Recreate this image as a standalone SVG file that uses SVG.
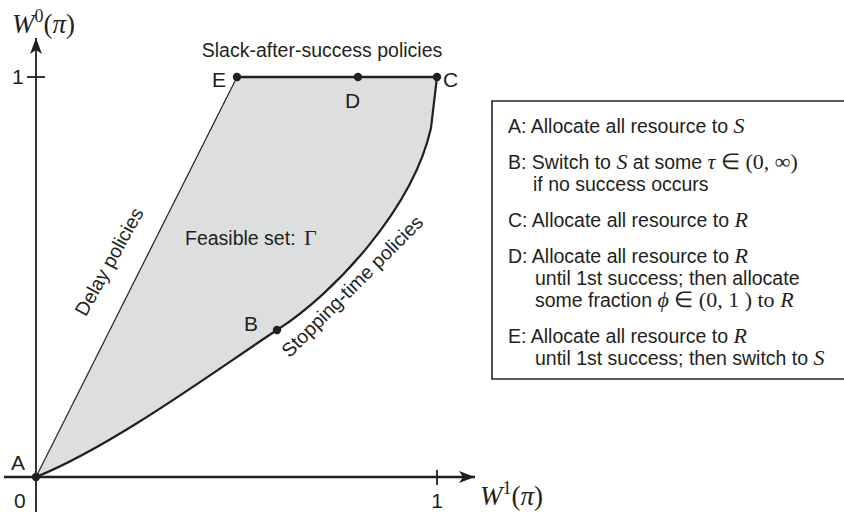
<svg xmlns="http://www.w3.org/2000/svg" width="844" height="512" viewBox="0 0 844 512">
<style>
.sans{font-family:"Liberation Sans",Arial,sans-serif;fill:#231f20;font-size:19.5px}
.lbl{font-family:"Liberation Sans",Arial,sans-serif;fill:#231f20;font-size:21px}
.m{font-family:"Liberation Serif","Times New Roman",serif;font-style:italic;font-size:22px}
.mr{font-family:"Liberation Serif","Times New Roman",serif;font-size:22px}
.ax{stroke:#231f20;fill:none}
.dot{fill:#231f20}
</style>
<defs>
<marker id="arr" markerUnits="userSpaceOnUse" markerWidth="20" markerHeight="16" refX="0" refY="0" viewBox="-18 -8 20 16" orient="auto" overflow="visible">
<path d="M0,0 L-16,-6 L-12,0 L-16,6 Z" fill="#231f20"/>
</marker>
</defs>
<rect width="844" height="512" fill="#fff"/>
<g id="region">
<path d="M36,477 L237,77 L437,77 L431,128 C413,208 335,293 277,330 C219,368 115,445 36,477 Z" fill="#dddee0" stroke="none"/>
</g>
<g id="connectors">
<line class="ax" x1="36" y1="512" x2="36" y2="38" stroke-width="1.8" marker-end="url(#arr)"/>
<line class="ax" x1="4" y1="477" x2="475" y2="477" stroke-width="2.6" marker-end="url(#arr)"/>
<line class="ax" x1="27" y1="77" x2="45" y2="77" stroke-width="1.8"/>
<line class="ax" x1="437" y1="470" x2="437" y2="485" stroke-width="1.8"/>
<line class="ax" x1="36" y1="477" x2="237" y2="77" stroke-width="1.2"/>
<line class="ax" x1="237" y1="77" x2="437" y2="77" stroke-width="2.6"/>
<path class="ax" d="M36,477 C115,445 219,368 277,330 C335,293 413,208 431,128 L437,77" stroke-width="2.2"/>
</g>
<g id="axis-labels">
<text x="12" y="33" font-family="Liberation Serif,serif" font-size="27" fill="#231f20"><tspan font-style="italic">W</tspan><tspan font-size="18" dy="-11">0</tspan><tspan dy="11">(</tspan><tspan font-style="italic">π</tspan>)</text>
<text x="480" y="505" font-family="Liberation Serif,serif" font-size="27" fill="#231f20"><tspan font-style="italic">W</tspan><tspan font-size="18" dy="-11">1</tspan><tspan dy="11">(</tspan><tspan font-style="italic">π</tspan>)</text>
<text class="lbl" x="12" y="84">1</text>
<text class="lbl" x="14" y="508">0</text>
<text class="lbl" x="437" y="508" text-anchor="middle">1</text>
</g>
<g id="A"><circle class="dot" cx="36" cy="477" r="4.2"/><text class="lbl" x="11" y="470">A</text></g>
<g id="B"><circle class="dot" cx="277" cy="330" r="4.2"/><text class="lbl" x="244" y="331">B</text></g>
<g id="C"><circle class="dot" cx="437" cy="77" r="4.2"/><text class="lbl" x="443" y="87">C</text></g>
<g id="D"><circle class="dot" cx="358" cy="77" r="4.2"/><text class="lbl" x="345" y="108">D</text></g>
<g id="E"><circle class="dot" cx="237" cy="77" r="4.2"/><text class="lbl" x="212" y="87">E</text></g>
<g id="region-labels">
<text class="sans" x="322" y="57" text-anchor="middle">Slack-after-success policies</text>
<text class="sans" x="185" y="245">Feasible set: <tspan class="mr" font-size="25" dx="3">Γ</tspan></text>
<text class="sans" text-anchor="middle" transform="translate(115,265) rotate(-61)">Delay policies</text>
<text class="sans" text-anchor="middle" transform="translate(357,291) rotate(-45)">Stopping-time policies</text>
</g>
<g id="legend">
<path d="M845,101 L492,101 L492,379 L845,379" fill="#fff" stroke="#231f20" stroke-width="1.6"/>
<text class="sans" x="508" y="133">A: Allocate all resource to <tspan class="m">S</tspan></text>
<text class="sans" x="508" y="169">B: Switch to <tspan class="m">S</tspan> at some <tspan class="m">τ</tspan><tspan class="mr"> ∈ (0, ∞)</tspan></text>
<text class="sans" x="533" y="191">if no success occurs</text>
<text class="sans" x="508" y="227">C: Allocate all resource to <tspan class="m">R</tspan></text>
<text class="sans" x="508" y="263">D: Allocate all resource to <tspan class="m">R</tspan></text>
<text class="sans" x="535" y="285">until 1st success; then allocate</text>
<text class="sans" x="535" y="307">some fraction <tspan class="m">ϕ</tspan><tspan class="mr"> ∈ (0, 1 ) to </tspan><tspan class="m">R</tspan></text>
<text class="sans" x="508" y="343">E: Allocate all resource to <tspan class="m">R</tspan></text>
<text class="sans" x="535" y="365">until 1st success; then switch to <tspan class="m">S</tspan></text>
</g>
</svg>
